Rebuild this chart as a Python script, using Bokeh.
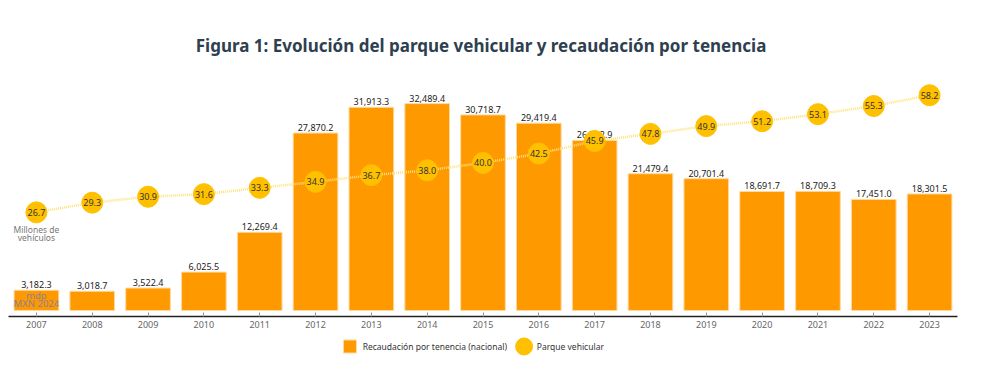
from bokeh.plotting import figure
from bokeh.layouts import column
from bokeh.models import FactorRange, Range1d, ColumnDataSource
from bokeh.core.properties import value
from bokeh.embed import file_html
from bokeh.resources import INLINE

years = [str(y) for y in range(2007, 2024)]
recaudacion = [3182.3, 3018.7, 3522.4, 6025.5, 12269.4, 27870.2, 31913.3, 32489.4,
               30718.7, 29419.4, 26712.9, 21479.4, 20701.4, 18691.7, 18709.3, 17451.0, 18301.5]
parque = [26.7, 29.3, 30.9, 31.6, 33.3, 34.9, 36.7, 38.0, 40.0, 42.5, 45.9, 47.8,
          49.9, 51.2, 53.1, 55.3, 58.2]
legend_labels = ["Recaudación por tenencia (nacional)", "Parque vehicular"]
title_text = "Figura 1: Evolución del parque vehicular y recaudación por tenencia"

FONT = "Noto Sans"
BAR_COLOR = "#FF9900"
DOT_COLOR = "#FFC000"

src = ColumnDataSource(dict(
    x=years, rec=recaudacion, par=parque,
    rec_lbl=[f"{v:,.1f}" for v in recaudacion],
    par_lbl=[f"{v:.1f}" for v in parque],
))


def strip(h):
    f = figure(width=970, height=h, output_backend="svg", toolbar_location=None,
               x_range=Range1d(0, 970), y_range=Range1d(h, 0),
               min_border=0, outline_line_color=None)
    f.axis.visible = False
    f.grid.grid_line_color = None
    return f


# title strip
tt = strip(60)
tt.text(x=[483], y=[45], text=[title_text], text_align="center", text_baseline="middle",
        text_font=value(FONT), text_font_size="17px", text_font_style="bold",
        text_color="#2e3f50")

p = figure(width=970, height=270, output_backend="svg", toolbar_location=None,
           x_range=FactorRange(factors=years, range_padding=0),
           y_range=Range1d(-946, 36909),
           min_border_left=8, min_border_right=13, min_border_top=15, min_border_bottom=0)
p.extra_y_ranges = {"par": Range1d(-1.3, 63.5)}

p.outline_line_color = None
p.grid.grid_line_color = None
p.yaxis.visible = False

ax = p.xaxis[0]
ax.axis_line_color = "#222222"
ax.axis_line_width = 1.3
ax.major_tick_in = 4
ax.major_tick_out = 0
ax.major_tick_line_color = "#999999"
ax.minor_tick_line_color = None
ax.major_label_text_font = FONT
ax.major_label_text_font_size = "9px"
ax.major_label_text_color = "#666666"
ax.major_label_standoff = 4

p.vbar(x="x", top="rec", width=0.8, source=src, fill_color=BAR_COLOR,
       line_color="#FFD9A0", line_width=1)
p.text(x="x", y="rec", text="rec_lbl", source=src, text_align="center",
       text_baseline="bottom", y_offset=-2, text_font=value(FONT),
       text_font_size="9px", text_color="#222222")

p.line(x="x", y="par", source=src, y_range_name="par", line_color="#FFE27A",
       line_width=2.5, line_dash="1 1")
p.scatter(x="x", y="par", source=src, y_range_name="par", size=21,
          fill_color=DOT_COLOR, line_color=DOT_COLOR)
p.text(x="x", y="par", text="par_lbl", source=src, y_range_name="par",
       text_align="center", text_baseline="middle", text_font=value(FONT),
       text_font_size="9px", text_color="#333333")

# unit notes attached to the first points
unit_src = ColumnDataSource(dict(x=[years[0]] * 2, y=[parque[0]] * 2,
                                 t=["Millones de", "vehículos"], off=[17, 25]))
p.text(x="x", y="y", text="t", y_offset="off", source=unit_src, y_range_name="par",
       text_align="center", text_baseline="middle", text_font=value(FONT),
       text_font_size="8.5px", text_color="#777777")
unit_src2 = ColumnDataSource(dict(x=[years[0]] * 2, y=[recaudacion[0]] * 2,
                                  t=["mdp", "MXN 2024"], off=[5, 13]))
p.text(x="x", y="y", text="t", y_offset="off", source=unit_src2,
       text_align="center", text_baseline="middle", text_font=value(FONT),
       text_font_size="9.5px", text_color="#8e8096")

# legend strip
lg = strip(30)
lg.scatter(x=[349], y=[16], marker="square", size=13, fill_color=BAR_COLOR,
           line_color="#FFD9A0")
lg.scatter(x=[527], y=[16], marker="circle", size=17, fill_color=DOT_COLOR,
           line_color=DOT_COLOR)
lg.text(x=[362, 540], y=[16, 16], text=legend_labels, text_baseline="middle",
        text_align="left", text_font=value(FONT), text_font_size="8.5px",
        text_color="#333333")

open("out.html", "w").write(file_html(column(tt, p, lg, spacing=0), INLINE))
